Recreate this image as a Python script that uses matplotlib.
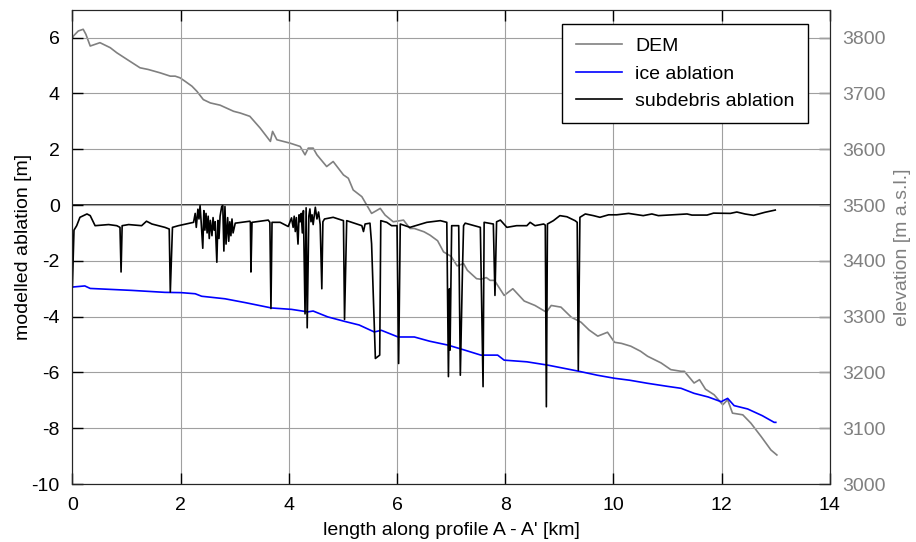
import matplotlib
matplotlib.use('Agg')
from matplotlib import pyplot as plt

plt.rcParams['font.family'] = ['Liberation Sans', 'DejaVu Sans']
plt.rcParams['axes.unicode_minus'] = False

# DEM elevation along profile (right axis)
dem_km = [0.00, 0.02, 0.11, 0.20, 0.25, 0.33, 0.51, 0.70, 0.82, 1.01, 1.25, 1.40, 1.62, 1.81,
          1.90, 1.99, 2.08, 2.21, 2.30, 2.42, 2.55, 2.73, 2.98, 3.10, 3.28, 3.47, 3.66, 3.70,
          3.78, 4.02, 4.21, 4.30, 4.36, 4.45, 4.52, 4.70, 4.82, 5.01, 5.10, 5.19, 5.35, 5.53,
          5.62, 5.69, 5.78, 5.93, 6.12, 6.24, 6.32, 6.50, 6.61, 6.75, 6.86, 7.00, 7.11, 7.23,
          7.30, 7.47, 7.55, 7.65, 7.72, 7.80, 7.98, 8.14, 8.35, 8.55, 8.76, 8.85, 9.03, 9.22,
          9.40, 9.55, 9.71, 9.89, 10.02, 10.15, 10.32, 10.50, 10.63, 10.88, 11.06, 11.25,
          11.31, 11.49, 11.59, 11.70, 11.86, 12.02, 12.11, 12.20, 12.39, 12.54, 12.73, 12.91,
          13.02]
dem_m = [3798, 3803, 3812, 3815, 3806, 3785, 3791, 3782, 3773, 3761, 3746, 3743, 3737, 3731,
         3731, 3728, 3722, 3713, 3704, 3689, 3683, 3679, 3668, 3665, 3659, 3638, 3614, 3632,
         3617, 3611, 3605, 3590, 3602, 3602, 3590, 3569, 3578, 3554, 3548, 3527, 3515, 3485,
         3490, 3494, 3482, 3470, 3473, 3458, 3458, 3452, 3446, 3436, 3416, 3408, 3391, 3395,
         3383, 3368, 3367, 3370, 3365, 3365, 3338, 3350, 3328, 3320, 3308, 3320, 3317, 3299,
         3290, 3276, 3265, 3272, 3254, 3252, 3247, 3238, 3229, 3217, 3205, 3202,
         3202, 3181, 3187, 3170, 3160, 3142, 3151, 3127, 3124, 3109, 3085, 3061,
         3052]

# clean ice ablation (left axis)
ice_km = [0.00, 0.23, 0.33, 1.10, 1.71, 2.01, 2.27, 2.39, 2.82, 3.20, 3.68, 4.05, 4.35, 4.45,
          4.72, 5.03, 5.30, 5.58, 5.71, 6.02, 6.32, 6.60, 6.94, 7.25, 7.55, 7.86, 7.98, 8.40,
          8.79, 9.34, 9.70, 10.02, 10.30, 10.63, 11.00, 11.25, 11.49, 11.75, 11.99, 12.11,
          12.23, 12.48, 12.75, 12.97, 13.00]
ice_abl = [-2.94, -2.90, -2.99, -3.06, -3.13, -3.14, -3.18, -3.27, -3.36, -3.50, -3.69, -3.74,
           -3.83, -3.80, -4.01, -4.17, -4.30, -4.55, -4.49, -4.73, -4.73, -4.88, -5.02, -5.20,
           -5.38, -5.38, -5.56, -5.62, -5.74, -5.95, -6.10, -6.21, -6.28, -6.39, -6.50, -6.57,
           -6.75, -6.88, -7.05, -6.93, -7.19, -7.31, -7.55, -7.79, -7.79]

# subdebris ablation (left axis)
deb_km = [0.00, 0.03, 0.08, 0.14, 0.27, 0.33, 0.42, 0.67, 0.82, 0.88, 0.90, 0.92, 1.04, 1.28,
          1.37, 1.47, 1.71, 1.79, 1.81, 1.85, 1.96, 2.24,
          2.27, 2.29, 2.32, 2.34, 2.36, 2.38, 2.41, 2.43, 2.45, 2.47, 2.49, 2.51, 2.53, 2.55,
          2.58, 2.60, 2.62, 2.64, 2.67, 2.69, 2.71, 2.73, 2.76, 2.78, 2.80, 2.82, 2.84, 2.87,
          2.89, 2.91, 2.93, 2.95, 2.97, 3.01,
          3.28, 3.29, 3.30, 3.32, 3.62, 3.65, 3.67, 3.69, 3.84, 3.99,
          4.05, 4.08, 4.10, 4.12, 4.14, 4.17, 4.19, 4.21, 4.23, 4.25, 4.27, 4.30, 4.32, 4.34,
          4.37, 4.39, 4.41, 4.43, 4.45, 4.49, 4.52, 4.55, 4.58, 4.61, 4.63, 4.66, 4.82, 5.01,
          5.03, 5.07, 5.35, 5.38, 5.41, 5.50, 5.53, 5.60, 5.68, 5.70, 5.81, 5.90, 6.00, 6.03,
          6.06, 6.24, 6.55, 6.80, 6.92, 6.95, 6.97, 6.98, 7.01, 7.14, 7.17, 7.21, 7.23, 7.26,
          7.54, 7.59, 7.61, 7.78, 7.81, 7.84, 7.91, 8.03, 8.21, 8.40, 8.46, 8.55, 8.71, 8.74,
          8.76, 8.78, 8.89, 9.01, 9.14, 9.29, 9.33, 9.35, 9.38, 9.48, 9.63, 9.75, 9.91, 10.06,
          10.28, 10.55, 10.71, 10.83, 11.08, 11.36, 11.45, 11.73, 11.85, 12.16, 12.28, 12.43,
          12.59, 12.80, 12.99]
deb_abl = [-2.94, -0.90, -0.74, -0.44, -0.32, -0.38, -0.74, -0.70, -0.74, -0.80, -2.40, -0.74,
           -0.70, -0.74, -0.58, -0.68, -0.80, -0.86, -3.12, -0.80, -0.74, -0.62,
           -0.30, -0.80, -0.15, -0.50, -0.02, -0.60, -1.55, -0.20, -0.90, -0.30, -1.00, -0.40,
           -1.20, -0.55, -1.10, -0.45, -0.90, -0.60, -2.05, -0.55, -1.20, -0.40, -0.05, -0.02,
           -1.65, -0.05, -1.40, -0.45, -1.30, -0.60, -1.10, -0.50, -1.00, -0.65,
           -0.58, -0.62, -2.40, -0.62, -0.54, -0.62, -3.71, -0.62, -0.62, -0.77,
           -0.46, -0.80, -0.40, -0.95, -0.45, -1.40, -0.35, -0.60, -0.30, -1.00, -0.20, -3.90,
           -0.10, -4.40, -0.40, -0.14, -0.60, -0.35, -0.70, -0.08, -0.50, -0.25, -0.70, -3.00,
           -0.60, -0.50, -0.44, -0.56,
           -4.10, -0.56, -0.74, -0.95, -0.68, -0.65, -1.39, -5.50, -5.38, -0.56, -0.62, -0.74,
           -0.74, -5.68, -0.68, -0.80, -0.62, -0.56, -0.62, -6.15, -3.00, -5.20, -0.74, -0.74,
           -6.10, -2.30, -0.74, -0.65, -0.80, -6.51, -0.62, -0.68, -3.24, -0.60, -0.54, -0.80,
           -0.74, -0.74, -0.62, -0.74, -0.68, -0.72, -7.23, -0.68, -0.56, -0.38, -0.42, -0.56,
           -0.62, -5.92, -0.44, -0.32, -0.38, -0.44, -0.35, -0.35, -0.30, -0.38, -0.32, -0.38,
           -0.35, -0.32, -0.36, -0.36, -0.29, -0.30, -0.25, -0.32, -0.37, -0.26, -0.18]

grey = '#808080'

fig = plt.figure(figsize=(9.16, 5.42), dpi=100)
ax1 = fig.add_axes([0.079, 0.107, 0.827, 0.875])
ax2 = ax1.twinx()

ax1.set_zorder(2)
ax1.patch.set_visible(False)

l_dem, = ax2.plot(dem_km, dem_m, color=grey, lw=1.2, label='DEM')
l_ice, = ax1.plot(ice_km, ice_abl, color='#0000ff', lw=1.2, label='ice ablation')
l_deb, = ax1.plot(deb_km, deb_abl, color='black', lw=1.2, label='subdebris ablation')
ax1.axhline(0, color='#222222', lw=1.3, zorder=1)

ax1.set_xlim(0, 14)
ax1.set_ylim(-10, 7)
ax2.set_ylim(3000, 3850)
ax1.set_xticks(range(0, 15, 2))
ax1.set_yticks(range(-10, 7, 2))
ax2.set_yticks(range(3000, 3801, 100))

ax1.grid(True, color='#a0a0a0', lw=0.8)
ax1.tick_params(direction='in', length=8, width=1, labelsize=14, top=True, right=False)
ax1.tick_params(axis='x', pad=9)
ax1.tick_params(axis='y', pad=9)
ax2.tick_params(direction='in', length=8, width=1, labelsize=14, colors='#404040',
                labelcolor=grey, pad=9)

ax1.set_xlabel('length along profile A - A\' [km]', fontsize=14, labelpad=6)
ax1.set_ylabel('modelled ablation [m]', fontsize=14, labelpad=0)
ax2.set_ylabel('elevation [m a.s.l.]', fontsize=14, color=grey, labelpad=6)

for s in ax1.spines.values():
    s.set_color('#262626')
for s in ax2.spines.values():
    s.set_color('#262626')

leg = ax1.legend(handles=[l_dem, l_ice, l_deb], loc='upper right', fontsize=14,
                 frameon=True, fancybox=False, edgecolor='black', framealpha=1,
                 bbox_to_anchor=(0.971, 0.970), borderaxespad=0, handlelength=2.4,
                 handletextpad=0.65, borderpad=0.7, labelspacing=0.5)
leg.get_frame().set_linewidth(1.0)

fig.savefig('out.png', dpi=100)
